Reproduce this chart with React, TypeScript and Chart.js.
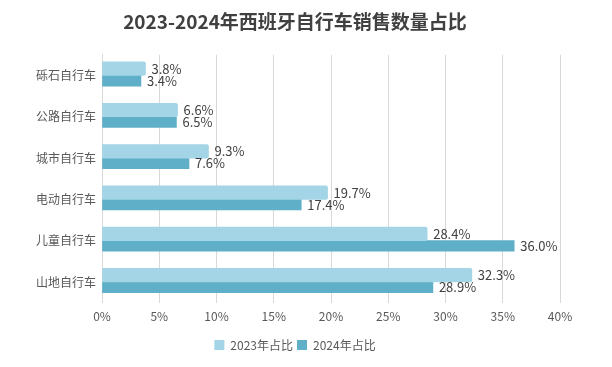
import React, { useEffect, useRef } from "react";
import { Chart, registerables } from "chart.js";

Chart.register(...registerables);

const categories = ["砾石自行车", "公路自行车", "城市自行车", "电动自行车", "儿童自行车", "山地自行车"];
const share2023 = [3.8, 6.6, 9.3, 19.7, 28.4, 32.3];
const share2024 = [3.4, 6.5, 7.6, 17.4, 36.0, 28.9];
const seriesNames = ["2023年占比", "2024年占比"];
const titleText = "2023-2024年西班牙自行车销售数量占比";

const FONT = "'Noto Sans CJK SC', 'Noto Sans', sans-serif";

const labelPlugin = {
  id: "barLabels",
  afterDatasetsDraw(chart: any) {
    const ctx = chart.ctx;
    ctx.save();
    ctx.font = `13px ${FONT}`;
    ctx.fillStyle = "#404040";
    ctx.textAlign = "left";
    ctx.textBaseline = "middle";
    chart.data.datasets.forEach((ds: any, i: number) => {
      const meta = chart.getDatasetMeta(i);
      meta.data.forEach((el: any, j: number) => {
        ctx.fillText(ds.data[j].toFixed(1) + "%", el.x + 6, el.y);
      });
    });
    ctx.restore();
  },
};

export default function App() {
  const ref = useRef<HTMLCanvasElement>(null);
  useEffect(() => {
    document.body.style.margin = "0";
    const chart = new Chart(ref.current!, {
      type: "bar",
      data: {
        labels: categories,
        datasets: [
          {
            label: seriesNames[0],
            data: share2023,
            backgroundColor: "#a3d5e6",
            barThickness: 13.5,
            categoryPercentage: 0.733,
            borderRadius: 2,
          },
          {
            label: seriesNames[1],
            data: share2024,
            backgroundColor: "#5eafc7",
            barThickness: 10.6,
            categoryPercentage: 0.733,
          },
        ],
      },
      options: {
        indexAxis: "y",
        animation: false,
        responsive: false,
        layout: { padding: { left: 30, right: 52, top: 0, bottom: 6 } },
        scales: {
          x: {
            min: 0,
            max: 40,
            ticks: {
              stepSize: 5,
              callback: (v: any) => v + "%",
              color: "#595959",
              font: { family: FONT, size: 12 },
              padding: 7,
            },
            grid: { color: "#d9d9d9", drawTicks: false },
            border: { display: false },
            afterFit: (scale: any) => {
              scale.height += 4;
            },
          },
          y: {
            ticks: {
              color: "#595959",
              font: { family: FONT, size: 12 },
              padding: 6,
            },
            grid: { display: false, drawTicks: false },
            border: { display: true, color: "#d9d9d9" },
          },
        },
        plugins: {
          title: {
            display: true,
            text: titleText,
            color: "#404040",
            font: { family: FONT, size: 19, weight: "bold" },
            padding: { top: 10, bottom: 22 },
          },
          legend: {
            position: "bottom",
            labels: {
              boxWidth: 10,
              boxHeight: 10,
              color: "#595959",
              font: { family: FONT, size: 12 },
              padding: 4,
            },
          },
          tooltip: { enabled: false },
        },
      },
      plugins: [labelPlugin],
    });
    return () => chart.destroy();
  }, []);
  return <canvas ref={ref} width={612} height={367} />;
}
